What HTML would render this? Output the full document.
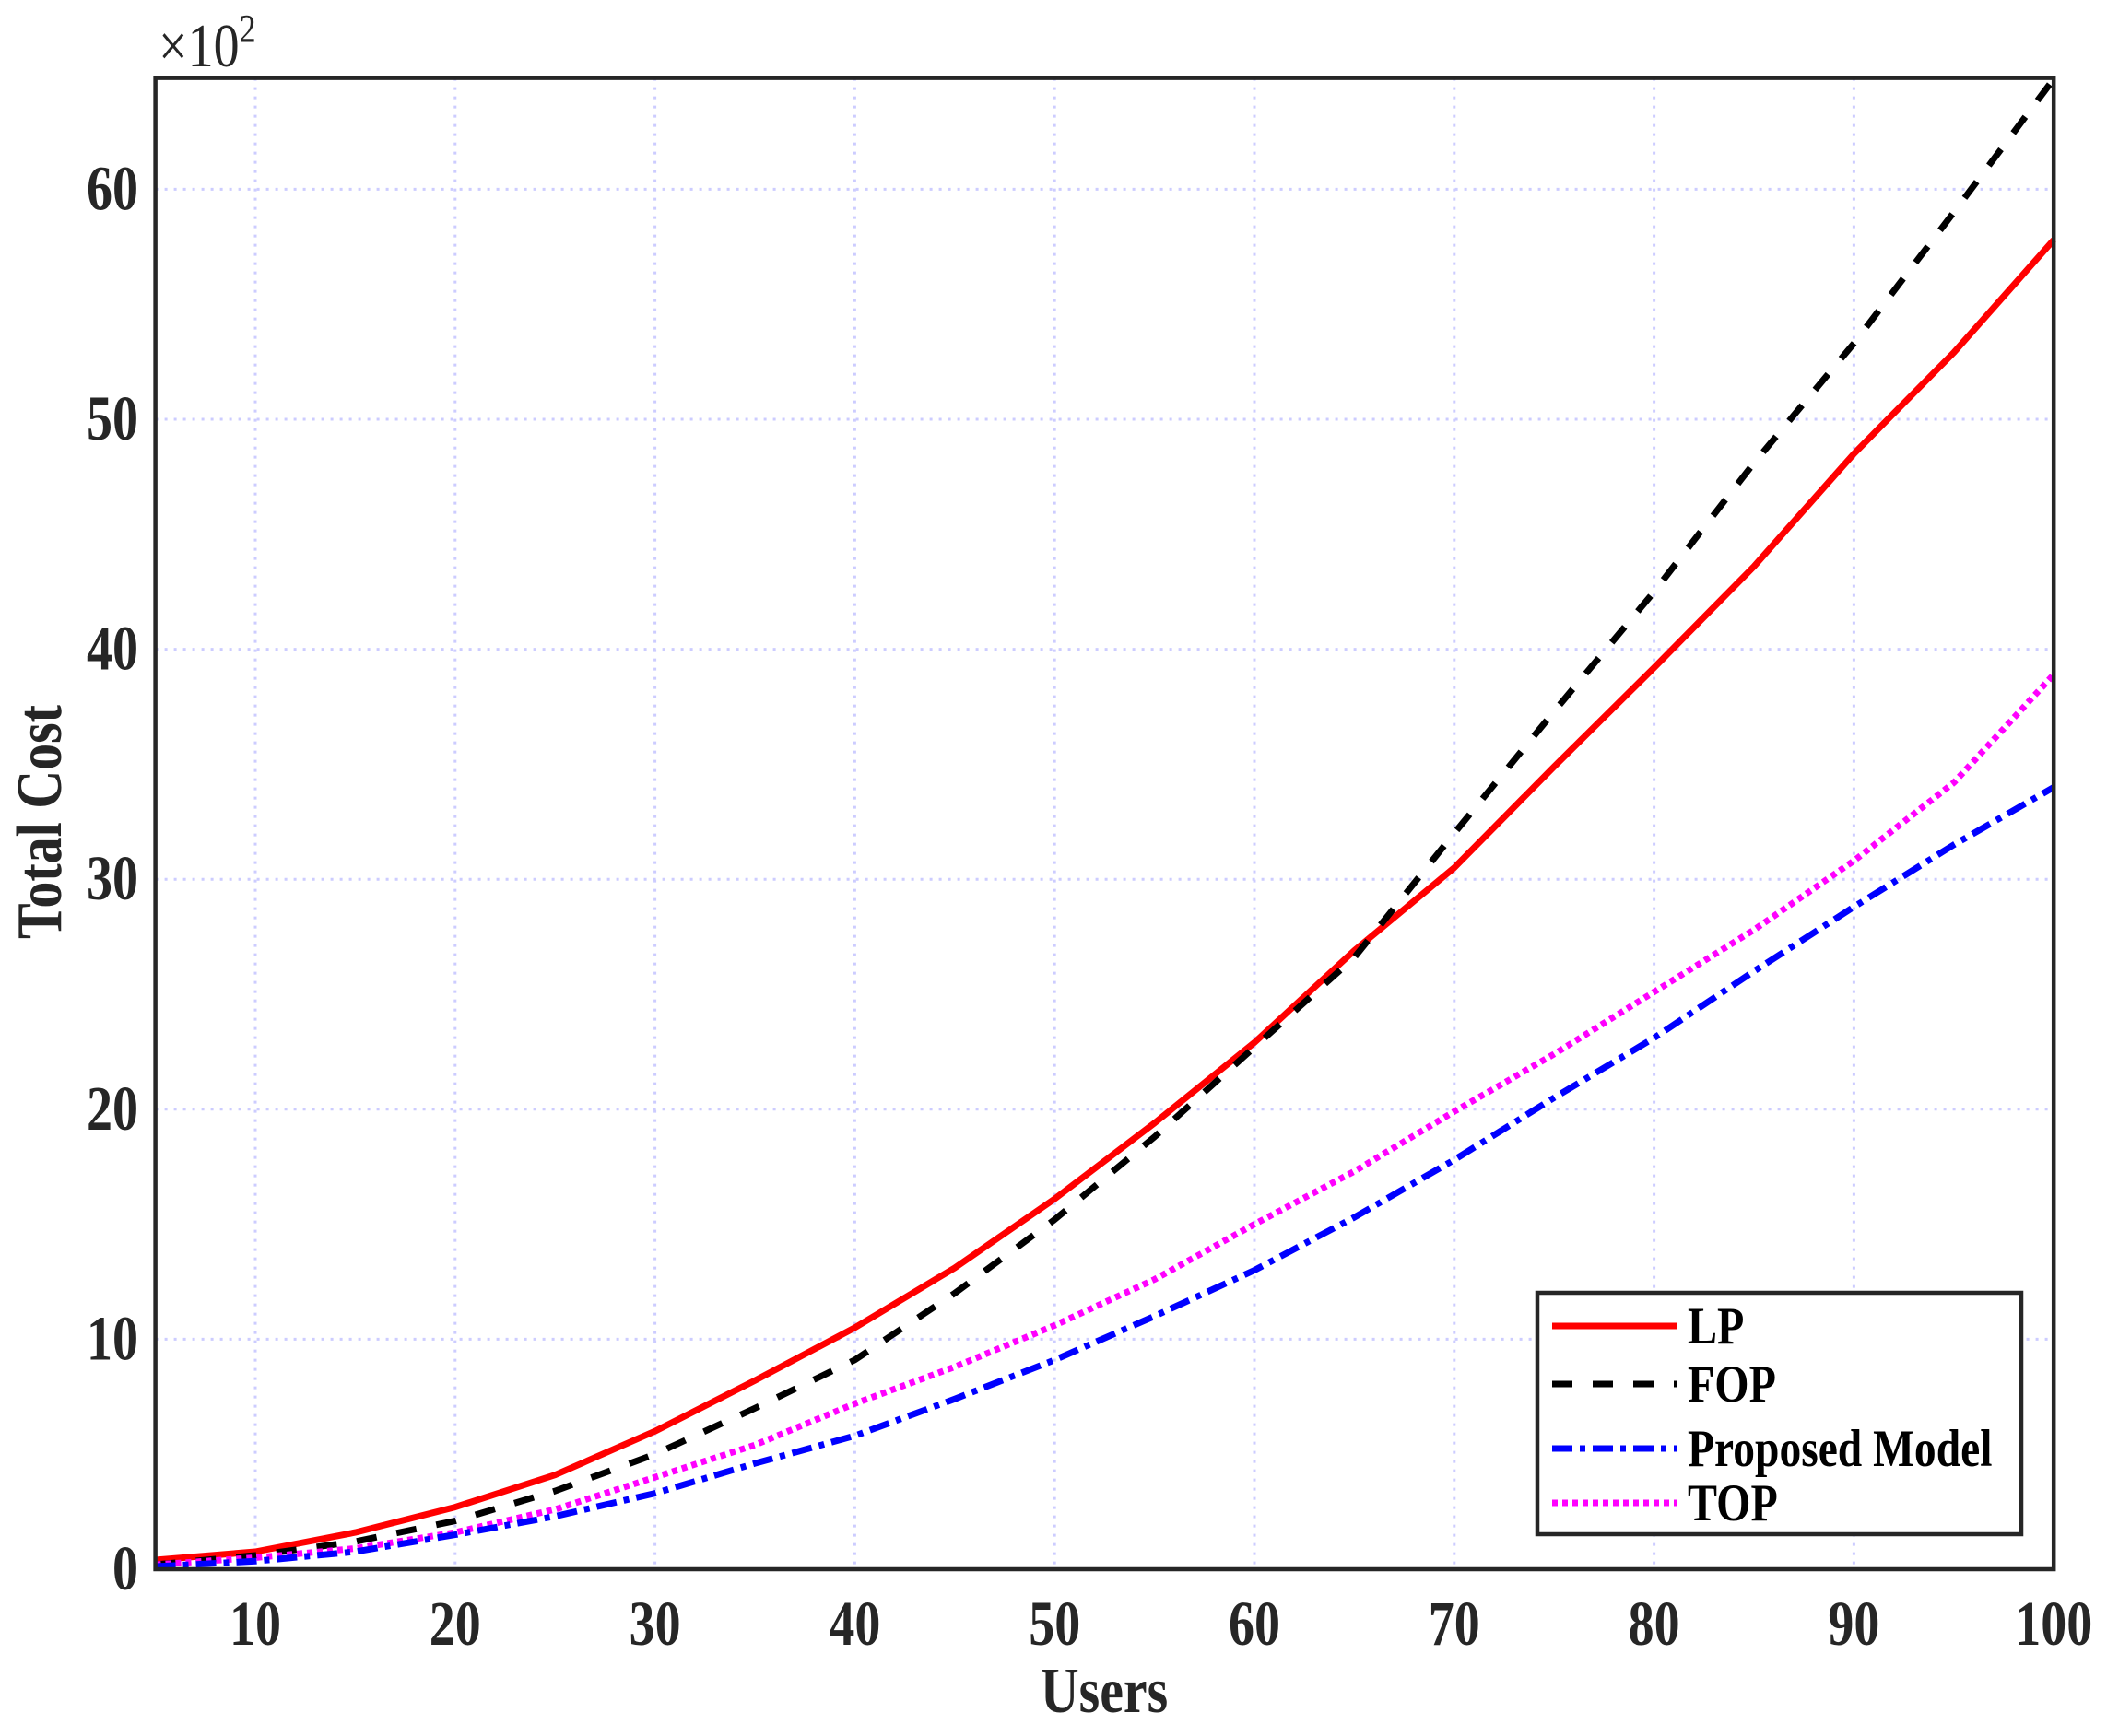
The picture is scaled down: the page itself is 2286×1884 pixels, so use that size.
<!DOCTYPE html>
<html><head><meta charset="utf-8"><style>
html,body{margin:0;padding:0;background:#fff}
svg{display:block}
text{font-family:"Liberation Serif",serif;font-weight:bold;fill:#262626}
</style></head><body>
<svg id="s" width="2286" height="1884" xmlns="http://www.w3.org/2000/svg">
<rect width="2286" height="1884" fill="#fff"/>
<g id="grid" stroke="#ccccff" stroke-width="3" stroke-dasharray="3,7" fill="none"></g>
<g id="series" fill="none" stroke-width="7" stroke-linejoin="round"></g>
<rect x="168.6" y="84.6" width="2059.6" height="1618.4" fill="none" stroke="#262626" stroke-width="4.5"/>
<g id="ticks" font-size="56" text-anchor="middle"></g>
<text transform="translate(172,72) scale(1,1.2)" font-size="56" style="font-weight:normal">×10<tspan font-size="36" dy="-22">2</tspan></text>
<text transform="translate(1198,1858) scale(1,1.2)" font-size="58" text-anchor="middle">Users</text>
<text transform="translate(66,892) rotate(-90) scale(1,1.2)" font-size="58" text-anchor="middle">Total Cost</text>
<rect x="1668" y="1403" width="525" height="262" fill="#fff" stroke="#262626" stroke-width="4.5"/>
<line x1="1684" y1="1439" x2="1820" y2="1439" stroke="#ff0000" stroke-width="7"/>
<line x1="1684" y1="1502" x2="1820" y2="1502" stroke="#000" stroke-width="7" stroke-dasharray="22,22"/>
<line x1="1684" y1="1572" x2="1820" y2="1572" stroke="#0000ff" stroke-width="7" stroke-dasharray="22,8,6,8"/>
<line x1="1684" y1="1631" x2="1820" y2="1631" stroke="#ff00ff" stroke-width="7" stroke-dasharray="6,5"/>
<g font-size="48">
<text transform="translate(1831,1458) scale(1,1.2)" style="fill:#000">LP</text>
<text transform="translate(1831,1521) scale(1,1.2)" style="fill:#000">FOP</text>
<text transform="translate(1831,1591) scale(0.99,1.2)" style="fill:#000">Proposed Model</text>
<text transform="translate(1831,1650) scale(1,1.2)" style="fill:#000">TOP</text>
</g>
</svg>
<script>
var NS="http://www.w3.org/2000/svg";
function X(x){return 168.6+(x-5)*21.68}
function Y(v){return 1703-v*24.96}
var g=document.getElementById("grid"),t=document.getElementById("ticks");
for(var x=10;x<=90;x+=10){var l=document.createElementNS(NS,"line");l.setAttribute("x1",X(x));l.setAttribute("x2",X(x));l.setAttribute("y1",84.6);l.setAttribute("y2",1703);g.appendChild(l);}
for(var v=10;v<=60;v+=10){var l=document.createElementNS(NS,"line");l.setAttribute("x1",168.6);l.setAttribute("x2",2228.2);l.setAttribute("y1",Y(v));l.setAttribute("y2",Y(v));g.appendChild(l);}
for(var x=10;x<=100;x+=10){var e=document.createElementNS(NS,"text");e.setAttribute("transform","translate("+X(x)+",1785) scale(1,1.22)");e.textContent=x;t.appendChild(e);}
for(var v=0;v<=60;v+=10){var e=document.createElementNS(NS,"text");e.setAttribute("transform","translate(150,"+(Y(v)+22)+") scale(1,1.22)");e.setAttribute("text-anchor","end");e.textContent=v;t.appendChild(e);}
var xs=[5,10,15,20,25,30,35,40,45,50,55,60,65,70,75,80,85,90,95,100];
var S=[
["#ff0000","",[0.4,0.76,1.6,2.7,4.1,6.0,8.2,10.5,13.1,16.1,19.4,22.9,26.9,30.5,34.9,39.2,43.6,48.5,52.9,57.8]],
["#000000","22,22",[0.2,0.6,1.2,2.1,3.4,5.0,7.0,9.1,12.0,15.2,18.8,22.7,26.6,32.0,37.3,42.5,48.1,53.3,59.0,64.8]],
["#0000ff","22,8,6,8",[0.12,0.35,0.76,1.5,2.3,3.3,4.6,5.8,7.4,9.1,11.0,13.0,15.3,17.8,20.5,23.1,26.0,28.8,31.5,34.0]],
["#ff00ff","6,5",[0.2,0.5,0.9,1.6,2.6,4.0,5.4,7.2,8.8,10.6,12.6,15.0,17.3,19.9,22.4,25.1,27.8,30.8,34.2,38.9]]];
var sg=document.getElementById("series");
[0,1,3,2].forEach(function(i){var s=S[i];var p=document.createElementNS(NS,"polyline");
p.setAttribute("points",xs.map(function(x,k){return X(x).toFixed(1)+","+Y(s[2][k]).toFixed(1)}).join(" "));
p.setAttribute("stroke",s[0]);if(s[1])p.setAttribute("stroke-dasharray",s[1]);sg.appendChild(p);});
</script>
</body></html>
